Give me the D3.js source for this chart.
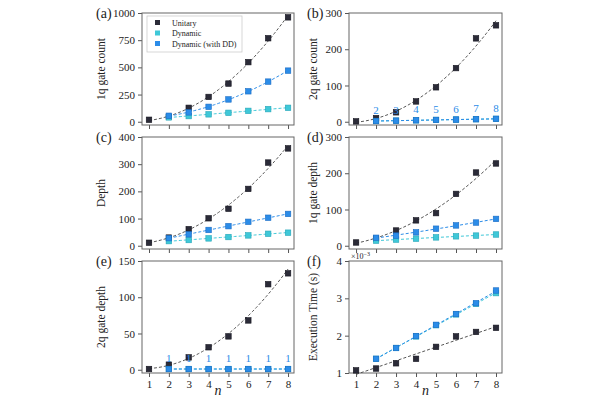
<!DOCTYPE html>
<html>
<head>
<meta charset="utf-8">
<script src="https://cdn.jsdelivr.net/npm/d3@7"></script>
<style>
  body { margin: 0; background: #fff; }
  svg text { font-family: "Liberation Serif", "DejaVu Serif", serif !important; fill: #222; }
</style>
</head>
<body>
<div id="chart"></div>
<script>
// Data
const nAll = [1, 2, 3, 4, 5, 6, 7, 8]
const nDyn = [2, 3, 4, 5, 6, 7, 8]

const count1qUnitary = [18, 45, 128, 228, 351, 548, 768, 960]
const count1qDynamic = [40, 52, 68, 82, 100, 116, 128]
const count1qDD = [55, 86, 137, 205, 280, 369, 470]

const count2qUnitary = [1, 10, 26, 56, 95, 148, 230, 266]
const count2qDynamic = [2, 3, 4, 5, 6, 7, 8]
const count2qDD = [2, 3, 4, 5, 6, 7, 8]

const depthUnitary = [11, 30, 61, 101, 136, 209, 306, 358]
const depthDynamic = [17, 21, 27, 32, 38, 44, 48]
const depthDD = [28, 42, 58, 72, 88, 103, 117]

const depth1qUnitary = [9, 20, 42, 70, 90, 143, 202, 227]
const depth1qDynamic = [14, 17, 19.5, 23, 26, 28, 31]
const depth1qDD = [22, 28, 37, 47, 56, 64, 74]

const depth2qUnitary = [1, 7, 17, 31, 46, 68, 118, 133]
const depth2qDynamic = [1, 1, 1, 1, 1, 1, 1]
const depth2qDD = [1, 1, 1, 1, 1, 1, 1]

// execution time in units of 1e-3 s
const timeUnitary = [1.07, 1.12, 1.26, 1.38, 1.70, 1.98, 2.10, 2.21]
const timeDynamic = [1.38, 1.67, 1.98, 2.28, 2.57, 2.85, 3.14]
const timeDD = [1.38, 1.67, 1.99, 2.29, 2.58, 2.87, 3.21]

const seriesNames = ['Unitary', 'Dynamic', 'Dynamic (with DD)']
const colors = { fill: ['#2b2b38', '#3fc8d8', '#2b8ce8'], stroke: ['#15151f', '#25a6b8', '#1a6cc4'], line: ['#555', '#3fc8d8', '#2b8ce8'] }

const yTicks = {
  a: [0, 250, 500, 750, 1000],
  b: [0, 100, 200, 300],
  c: [0, 100, 200, 300, 400],
  d: [0, 100, 200, 300],
  e: [0, 50, 100, 150],
  f: [1, 2, 3, 4]
}

const panels = [
  { id: 'a', label: '1q gate count', col: 0, row: 0, ys: [count1qUnitary, count1qDynamic, count1qDD], deg: 2, legend: true },
  { id: 'b', label: '2q gate count', col: 1, row: 0, ys: [count2qUnitary, count2qDynamic, count2qDD], deg: 2, values: true },
  { id: 'c', label: 'Depth', col: 0, row: 1, ys: [depthUnitary, depthDynamic, depthDD], deg: 2 },
  { id: 'd', label: '1q gate depth', col: 1, row: 1, ys: [depth1qUnitary, depth1qDynamic, depth1qDD], deg: 2 },
  { id: 'e', label: '2q gate depth', col: 0, row: 2, ys: [depth2qUnitary, depth2qDynamic, depth2qDD], deg: 2, values: true },
  { id: 'f', label: 'Execution Time (s)', col: 1, row: 2, ys: [timeUnitary, timeDynamic, timeDD], deg: 1, fixedMin: 1, exponent: true }
]

// least-squares polynomial fit (for the dashed trend lines)
const polyfit = (xs, ys, deg) => {
  const m = deg + 1
  const A = d3.range(m).map(() => new Array(m + 1).fill(0))
  xs.forEach((x, k) => {
    for (let i = 0; i < m; i++) {
      for (let j = 0; j < m; j++) A[i][j] += Math.pow(x, i + j)
      A[i][m] += Math.pow(x, i) * ys[k]
    }
  })
  for (let i = 0; i < m; i++) {
    let p = i
    for (let r = i + 1; r < m; r++) if (Math.abs(A[r][i]) > Math.abs(A[p][i])) p = r
    ;[A[i], A[p]] = [A[p], A[i]]
    for (let r = 0; r < m; r++) {
      if (r === i) continue
      const f = A[r][i] / A[i][i]
      for (let c = i; c <= m; c++) A[r][c] -= f * A[i][c]
    }
  }
  const coef = A.map((row, i) => row[m] / row[i])
  return x => coef.reduce((s, c, i) => s + c * Math.pow(x, i), 0)
}

const width = 600, height = 400
const colX = [142, 349], colW = [152, 153]
const rowY = [13, 137, 261], plotH = 112
const mk = 5.5
const serif = '"Liberation Serif", "DejaVu Serif", serif'

const svg = d3.select('#chart').append('svg')
    .attr('width', width)
    .attr('height', height)
    .style('font-family', serif)

panels.forEach(p => {
  const x0 = colX[p.col], w = colW[p.col], y0 = rowY[p.row]
  const g = svg.append('g').attr('transform', `translate(${x0},${y0})`)
  const ticks = yTicks[p.id]
  const ymax = ticks[ticks.length - 1]
  const ymin = p.fixedMin !== undefined ? p.fixedMin : -0.03 * ymax

  const x = d3.scaleLinear().domain([0.6475, 8.30]).range([0, w])
  const y = d3.scaleLinear().domain([ymin, ymax]).range([plotH, 0])

  // axes
  const xAxis = g.append('g')
      .attr('transform', `translate(0,${plotH})`)
      .call(d3.axisBottom(x).tickValues(nAll).tickSize(4).tickPadding(3)
        .tickFormat(p.row === 2 ? d3.format('d') : ''))
  const yAxis = g.append('g')
      .call(d3.axisLeft(y).tickValues(ticks).tickSize(4).tickPadding(3).tickFormat(d3.format('d')))
  ;[xAxis, yAxis].forEach(a => {
    a.attr('font-family', null)
    a.select('.domain').remove()
    a.selectAll('line').attr('stroke', '#555')
    a.selectAll('text').attr('font-size', 11).style('font-family', serif).attr('fill', '#222')
  })

  // frame
  g.append('rect')
      .attr('width', w).attr('height', plotH)
      .attr('fill', 'none').attr('stroke', '#666').attr('stroke-width', 1)

  // fits and markers
  p.ys.forEach((vals, s) => {
    const xs = s === 0 ? nAll : nDyn
    const fit = polyfit(xs, vals, p.deg)
    const pts = d3.range(xs[0], 8.001, 0.1).map(n => [n, fit(n)])
    g.append('path')
        .datum(pts)
        .attr('fill', 'none')
        .attr('stroke', colors.line[s])
        .attr('stroke-width', 1)
        .attr('stroke-dasharray', '3,2')
        .attr('d', d3.line().x(d => x(d[0])).y(d => y(d[1])))
  })
  p.ys.forEach((vals, s) => {
    const xs = s === 0 ? nAll : nDyn
    g.selectAll('.m' + s)
      .data(vals)
      .enter()
      .append('rect')
        .attr('class', 'm' + s)
        .attr('x', (d, i) => x(xs[i]) - mk / 2)
        .attr('y', d => y(d) - mk / 2)
        .attr('width', mk)
        .attr('height', mk)
        .attr('fill', colors.fill[s])
        .attr('stroke', colors.stroke[s])
        .attr('stroke-width', 0.6)
  })

  // value labels above dynamic markers
  if (p.values) {
    g.selectAll('.val')
      .data(p.ys[2])
      .enter()
      .append('text')
        .attr('x', (d, i) => x(nDyn[i]))
        .attr('y', d => y(d) - 7)
        .attr('text-anchor', 'middle')
        .attr('font-size', 11)
        .style('fill', colors.fill[2])
        .text(d => d)
  }

  // y label
  g.append('text')
      .attr('transform', `translate(${p.col === 0 ? -37 : -32},${plotH / 2}) rotate(-90)`)
      .attr('text-anchor', 'middle')
      .attr('font-size', 11.5)
      .text(p.label)

  // panel letter
  g.append('text')
      .attr('x', p.col === 0 ? -46 : -42)
      .attr('y', 5)
      .attr('font-size', 14)
      .text(`(${p.id})`)

  if (p.exponent) {
    g.append('text')
        .attr('x', 2)
        .attr('y', -2)
        .attr('font-size', 8)
        .html('×10<tspan dy="-3" font-size="6">−3</tspan>')
  }

  if (p.row === 2) {
    g.append('text')
        .attr('x', w / 2)
        .attr('y', plotH + 22)
        .attr('text-anchor', 'middle')
        .attr('font-size', 14)
        .attr('font-style', 'italic')
        .text('n')
  }

  if (p.legend) {
    const lg = g.append('g').attr('transform', 'translate(5,3)')
    lg.append('rect')
        .attr('width', 95).attr('height', 36)
        .attr('fill', '#fff').attr('stroke', '#ccc').attr('stroke-width', 0.8)
    seriesNames.forEach((name, s) => {
      lg.append('rect')
          .attr('x', 8).attr('y', 4 + s * 10.5)
          .attr('width', 5).attr('height', 5)
          .attr('fill', colors.fill[s])
      lg.append('text')
          .attr('x', 25).attr('y', 9.5 + s * 10.5)
          .attr('font-size', 8)
          .text(name)
    })
  }
})
</script>
</body>
</html>
